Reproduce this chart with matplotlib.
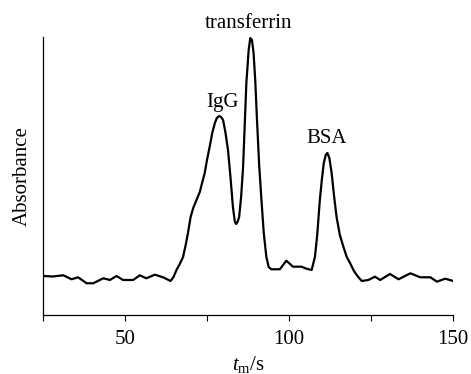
import matplotlib
matplotlib.use("Agg")
import matplotlib.pyplot as plt

plt.rcParams['font.family'] = ['Liberation Serif', 'DejaVu Serif']
plt.rcParams['mathtext.fontset'] = 'custom'
plt.rcParams['mathtext.rm'] = 'Liberation Serif'
plt.rcParams['mathtext.it'] = 'Liberation Serif:italic'

# migration time (s) and absorbance (arbitrary units)
t = [25.1, 28.0, 31.2, 33.7, 35.7, 38.3, 40.3, 43.4, 45.4, 47.4, 49.4, 52.5, 54.5,
     56.5, 59.1, 61.6, 63.9, 64.8, 65.7, 66.7, 67.7, 68.5, 69.2, 70.0, 70.8, 71.8,
     72.8, 73.5, 74.3, 75.0, 75.8, 76.6, 77.4, 78.0, 78.7, 79.3, 79.9, 80.6, 81.4,
     82.1, 82.9, 83.5, 83.9, 84.3, 84.8, 85.4, 86.0, 87.0, 87.7, 88.2, 88.7, 89.2,
     89.7, 90.2, 90.9, 91.6, 92.3, 93.1, 93.8, 94.6, 97.2, 99.2, 101.2, 103.8, 105.3,
     106.9, 107.9, 108.6, 109.4, 110.0, 110.6, 111.2, 111.7, 112.3, 113.0, 113.7,
     114.5, 115.5, 116.6, 117.6, 118.6, 119.8, 121.1, 122.2, 124.2, 126.2, 127.8,
     130.8, 133.4, 137.0, 140.0, 143.1, 145.1, 147.6, 150.1]
absorb = [39, 38.5, 39.7, 35.7, 37.7, 31.7, 31.7, 36.7, 35, 39, 35, 35, 39.7,
          36.7, 40.3, 37.7, 34, 38, 45, 51, 58, 70, 82, 98, 107, 115,
          123, 132, 142, 155, 168, 182, 192, 197, 199, 198, 195, 183, 165,
          140, 108, 93, 91, 93, 98, 118, 148, 232, 265, 277, 275, 262,
          235, 198, 150, 115, 82, 58, 48, 45.7, 45.7, 54.3, 48.3, 48.3, 46.3,
          45, 58, 80, 115, 135, 152, 160, 162, 157, 142, 120,
          98, 80, 68, 58, 52, 44, 38, 34, 35, 38.3, 35,
          41, 35.7, 41.7, 37.7, 37.7, 33.3, 36.3, 34]

peak_labels = ['transferrin', 'IgG', 'BSA']
peak_x = [87.6, 79.6, 111.5]
peak_y = [287, 208, 172]

xticks = [25, 50, 75, 100, 125, 150]
xticklabels = ['', '50', '', '100', '', '150']

fig = plt.figure(figsize=(4.71, 3.74), dpi=100)
ax = fig.add_axes([0.0913, 0.1578, 0.8705, 0.7433])
ax.plot(t, absorb, color='black', lw=1.6, solid_joinstyle='round')
ax.set_xlim(25, 150)
ax.set_ylim(0, 278)
ax.set_xticks(xticks)
ax.set_xticklabels(xticklabels, fontsize=15)
ax.set_yticks([])
ax.tick_params(axis='x', direction='out', length=4.5, width=0.8, pad=6)
for s in ['top', 'right']:
    ax.spines[s].set_visible(False)
for s in ['left', 'bottom']:
    ax.spines[s].set_linewidth(0.9)

for lab, x, y in zip(peak_labels, peak_x, peak_y):
    ax.text(x, y, lab, ha='center', va='baseline', fontsize=15, clip_on=False)

ax.set_ylabel('Absorbance', fontsize=15, labelpad=8)
ax.set_xlabel(r'$t_{\rm m}$/s', fontsize=15, labelpad=4)

fig.savefig('out.png', dpi=100)
